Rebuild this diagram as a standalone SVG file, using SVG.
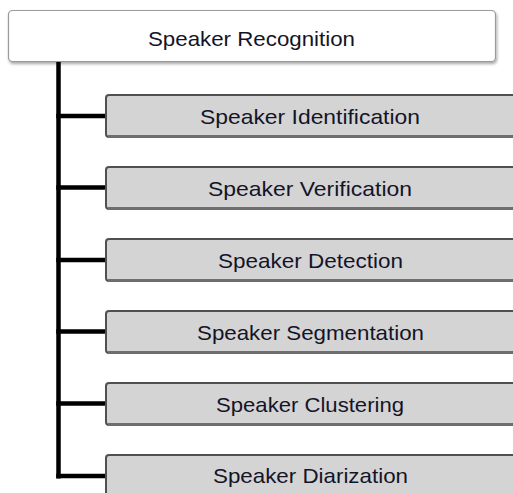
<svg xmlns="http://www.w3.org/2000/svg" width="513" height="493" viewBox="0 0 513 493">
  <defs>
    <filter id="soft-shadow" x="-5%" y="-20%" width="110%" height="160%">
      <feGaussianBlur in="SourceAlpha" stdDeviation="1.5"/>
      <feOffset dx="1" dy="2" result="blur"/>
      <feComponentTransfer><feFuncA type="linear" slope="0.35"/></feComponentTransfer>
      <feMerge><feMergeNode/><feMergeNode in="SourceGraphic"/></feMerge>
    </filter>
  </defs>
  <style>
    .root { fill: #ffffff; stroke: #9a9a9a; stroke-width: 1.2; }
    .child { fill: #d4d4d4; stroke: #505050; stroke-width: 2; }
    .child-base { fill: none; stroke: #6e6e6e; stroke-width: 3; }
    .label { font-family: "Liberation Sans", Arial, sans-serif; font-size: 21px; fill: #141428; text-anchor: middle; }
    .link { fill: none; stroke: #000000; stroke-width: 4.5; stroke-linecap: butt; }
  </style>

  <rect width="513" height="493" fill="#ffffff"/>

  <!-- connectors: trunk plus one branch per child -->
  <g id="connectors">
    <path class="link" d="M58.5 62 V478.5"/>
    <path class="link" d="M56.25 116 H107"/>
    <path class="link" d="M56.25 187.5 H107"/>
    <path class="link" d="M56.25 260 H107"/>
    <path class="link" d="M56.25 331.5 H107"/>
    <path class="link" d="M56.25 403.5 H107"/>
    <path class="link" d="M56.25 476 H107"/>
  </g>

  <g id="speaker-recognition">
    <rect class="root" x="8.5" y="10.5" width="487" height="51" rx="4" filter="url(#soft-shadow)"/>
    <text class="label" x="251.5" y="46" textLength="207" lengthAdjust="spacingAndGlyphs">Speaker Recognition</text>
  </g>

  <g id="speaker-identification">
    <rect class="child" x="106" y="95" width="420" height="42" rx="3"/>
    <path class="child-base" d="M108 136.5 H520"/>
    <text class="label" x="310" y="124" textLength="220" lengthAdjust="spacingAndGlyphs">Speaker Identification</text>
  </g>

  <g id="speaker-verification">
    <rect class="child" x="106" y="167" width="420" height="42" rx="3"/>
    <path class="child-base" d="M108 208.5 H520"/>
    <text class="label" x="310" y="196" textLength="204" lengthAdjust="spacingAndGlyphs">Speaker Verification</text>
  </g>

  <g id="speaker-detection">
    <rect class="child" x="106" y="239" width="420" height="42" rx="3"/>
    <path class="child-base" d="M108 280.5 H520"/>
    <text class="label" x="310.5" y="268" textLength="185" lengthAdjust="spacingAndGlyphs">Speaker Detection</text>
  </g>

  <g id="speaker-segmentation">
    <rect class="child" x="106" y="311" width="420" height="42" rx="3"/>
    <path class="child-base" d="M108 352.5 H520"/>
    <text class="label" x="310.5" y="340" textLength="227" lengthAdjust="spacingAndGlyphs">Speaker Segmentation</text>
  </g>

  <g id="speaker-clustering">
    <rect class="child" x="106" y="383" width="420" height="42" rx="3"/>
    <path class="child-base" d="M108 424.5 H520"/>
    <text class="label" x="310" y="412" textLength="188" lengthAdjust="spacingAndGlyphs">Speaker Clustering</text>
  </g>

  <g id="speaker-diarization">
    <rect class="child" x="106" y="455" width="420" height="42" rx="3"/>
    <text class="label" x="310.5" y="483" textLength="195" lengthAdjust="spacingAndGlyphs">Speaker Diarization</text>
  </g>
</svg>
